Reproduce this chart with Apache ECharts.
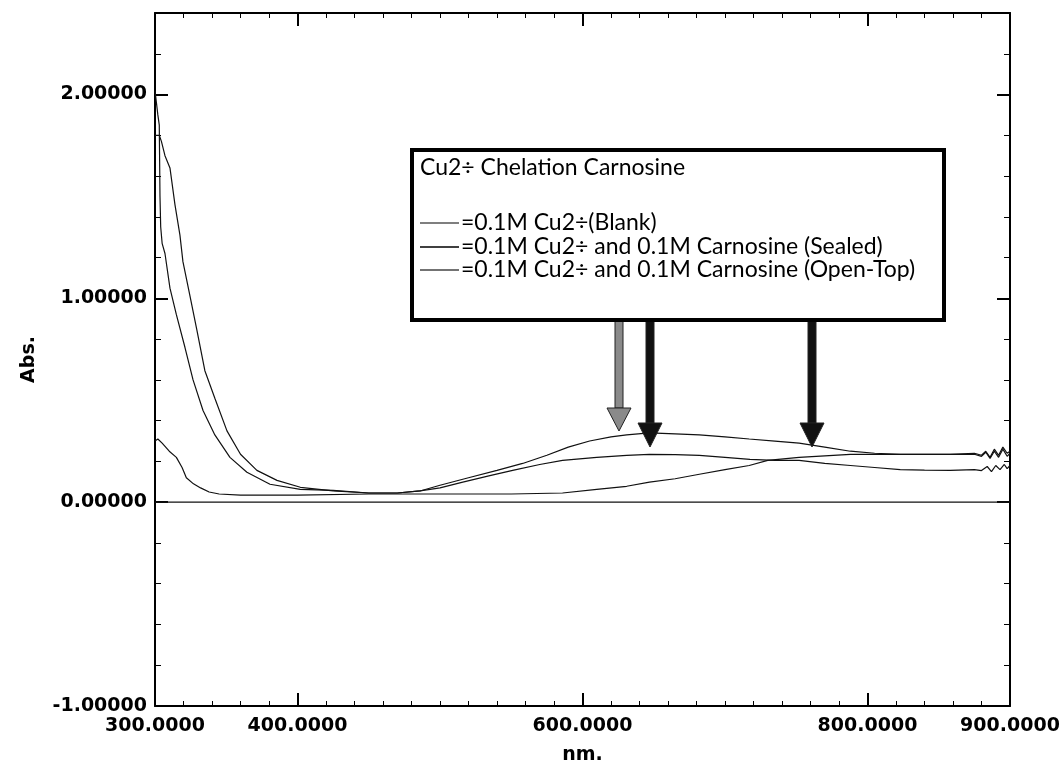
<!DOCTYPE html>
<html>
<head>
<meta charset="utf-8">
<script src="https://cdn.jsdelivr.net/npm/echarts@6.0.0/dist/echarts.min.js"></script>
<style>
  html, body { margin: 0; padding: 0; background: #fff; }
  #main { width: 1064px; height: 770px; }
</style>
</head>
<body>
<div id="main"></div>
<script>
var myChart = echarts.init(document.getElementById('main'));

// wavelength (nm) / absorbance
var blankNm = [300, 302, 305, 310, 315, 319, 322, 327, 332, 338, 345, 360, 400, 450, 500, 550, 586, 610, 631, 647, 665, 682, 700, 717, 730, 752, 788, 823, 858, 875, 880, 883, 886, 889, 892, 895, 898, 900];
var blankAbs = [0.30, 0.31, 0.29, 0.25, 0.22, 0.17, 0.12, 0.09, 0.07, 0.05, 0.04, 0.035, 0.035, 0.04, 0.04, 0.04, 0.045, 0.063, 0.078, 0.098, 0.115, 0.137, 0.16, 0.18, 0.205, 0.22, 0.235, 0.235, 0.235, 0.24, 0.23, 0.25, 0.22, 0.26, 0.23, 0.27, 0.24, 0.25];

var sealedNm = [300, 303, 304.5, 307, 310.5, 314, 317.5, 319.6, 324.6, 329.5, 335, 342, 350.5, 360, 371.5, 385.6, 402, 425, 450, 470, 486, 500, 520, 540, 558, 575, 590, 605, 620, 631, 647, 665, 682, 700, 717, 735, 752, 770, 788, 805, 823, 858, 875, 880, 883, 886, 889, 892, 895, 898, 900];
var sealedAbs = [1.80, 1.80, 1.77, 1.70, 1.64, 1.46, 1.31, 1.18, 1.01, 0.84, 0.645, 0.51, 0.35, 0.235, 0.156, 0.107, 0.073, 0.055, 0.045, 0.045, 0.055, 0.083, 0.12, 0.156, 0.19, 0.23, 0.27, 0.30, 0.32, 0.33, 0.34, 0.335, 0.33, 0.32, 0.31, 0.30, 0.29, 0.27, 0.25, 0.24, 0.235, 0.235, 0.235, 0.225, 0.245, 0.215, 0.25, 0.22, 0.26, 0.225, 0.24];

var openNm = [300, 302, 303, 303.5, 304, 305, 307, 310.5, 315, 321, 326.7, 333.7, 342, 352.6, 364.5, 380.7, 402, 425, 450, 470, 486, 500, 516, 535, 551, 570, 586, 610, 631, 647, 665, 682, 700, 717.5, 735, 752, 770, 788, 805, 823, 840, 858, 875, 880, 884, 887, 890, 893, 896, 898, 900];
var openAbs = [2.02, 1.90, 1.85, 1.50, 1.35, 1.27, 1.22, 1.05, 0.92, 0.76, 0.60, 0.45, 0.33, 0.22, 0.147, 0.088, 0.063, 0.058, 0.045, 0.045, 0.055, 0.07, 0.098, 0.13, 0.156, 0.185, 0.205, 0.22, 0.23, 0.235, 0.233, 0.23, 0.22, 0.21, 0.205, 0.205, 0.19, 0.18, 0.17, 0.16, 0.157, 0.156, 0.16, 0.155, 0.175, 0.15, 0.18, 0.16, 0.185, 0.165, 0.18];

var baseNm = [300, 900];
var baseAbs = [0, 0];

var xLabelValues = [300, 400, 600, 800, 900];
var xMajorTicks = [400, 600, 800];
var yLabelValues = [-1, 0, 1, 2];

var legendTitle = 'Cu2÷ Chelation Carnosine';
var legendNames = [
    '=0.1M Cu2÷(Blank)',
    '=0.1M Cu2÷ and 0.1M Carnosine (Sealed)',
    '=0.1M Cu2÷ and 0.1M Carnosine (Open-Top)'
];

function zip(xs, ys) {
    return xs.map(function (x, i) { return [x, ys[i]]; });
}

function labelFont() {
    return { color: '#000', fontFamily: 'DejaVu Sans', fontWeight: 'bold', fontSize: 19 };
}

function xAx(pos, major, labels) {
    var ax = {
        type: 'value', min: 300, max: 900, interval: 20, position: pos,
        axisLine: { show: !major, onZero: false, lineStyle: { color: '#000', width: 2 } },
        axisTick: major
            ? { show: true, inside: true, length: 13, customValues: xMajorTicks, lineStyle: { color: '#000', width: 2 } }
            : { show: true, inside: true, length: 5, lineStyle: { color: '#000', width: 1 } },
        axisLabel: { show: false },
        splitLine: { show: false }
    };
    if (labels) {
        ax.axisLabel = Object.assign({
            show: true, customValues: xLabelValues, margin: 11,
            formatter: function (v) { return v.toFixed(4); }
        }, labelFont());
        ax.name = 'nm.';
        ax.nameLocation = 'middle';
        ax.nameGap = 40;
        ax.nameTextStyle = labelFont();
    }
    return ax;
}

function yAx(pos, major, labels) {
    var ax = {
        type: 'value', min: -1, max: 2.4, interval: 0.2, position: pos,
        axisLine: { show: !major, onZero: false, lineStyle: { color: '#000', width: 2 } },
        axisTick: major
            ? { show: true, inside: true, length: 13, customValues: yLabelValues, lineStyle: { color: '#000', width: 2 } }
            : { show: true, inside: true, length: 6, lineStyle: { color: '#000', width: 1 } },
        axisLabel: { show: false },
        splitLine: { show: false }
    };
    if (labels) {
        ax.axisLabel = Object.assign({
            show: true, customValues: yLabelValues, margin: 8,
            formatter: function (v) { return v.toFixed(5); }
        }, labelFont());
        ax.name = 'Abs.';
        ax.nameLocation = 'middle';
        ax.nameGap = 116;
        ax.nameRotate = 90;
        ax.nameTextStyle = labelFont();
    }
    return ax;
}

function line(name, data) {
    return {
        name: name,
        type: 'line',
        data: data,
        showSymbol: false,
        lineStyle: { color: '#111', width: 1.2 },
        z: 3
    };
}

// legend box + arrows drawn as annotations
var graphics = [
    {
        type: 'rect', shape: { x: 412, y: 150, width: 532, height: 170 },
        style: { fill: '#fff', stroke: '#000', lineWidth: 4 }, z: 10
    },
    {
        type: 'text', x: 420, y: 168, z: 11,
        style: { text: legendTitle, fill: '#000', font: '23px Lato', verticalAlign: 'middle' }
    }
];
var legendY = [223, 247, 270];
var legendColors = ['#555', '#000', '#444'];
legendNames.forEach(function (t, i) {
    graphics.push({
        type: 'line', z: 11,
        shape: { x1: 420, y1: legendY[i], x2: 459, y2: legendY[i] },
        style: { stroke: legendColors[i], lineWidth: 1.5 }
    });
    graphics.push({
        type: 'text', x: 461, y: legendY[i], z: 11,
        style: { text: t, fill: '#000', font: '23px Lato', verticalAlign: 'middle' }
    });
});

function arrow(cx, headTop, tip, fill) {
    graphics.push({
        type: 'rect', z: 9,
        shape: { x: cx - 4, y: 320, width: 8, height: headTop - 320 },
        style: { fill: fill, stroke: '#222', lineWidth: 1 }
    });
    graphics.push({
        type: 'polygon', z: 9,
        shape: { points: [[cx - 12, headTop], [cx + 12, headTop], [cx, tip]] },
        style: { fill: fill, stroke: '#222', lineWidth: 1 }
    });
}
arrow(619, 408, 431, '#8a8a8a');
arrow(650, 423, 447, '#111');
arrow(812, 423, 447, '#111');

var option = {
    backgroundColor: '#fff',
    animation: false,
    grid: { left: 155, right: 54, top: 13, bottom: 61 },
    xAxis: [
        xAx('bottom', false, true),
        xAx('bottom', true, false),
        xAx('top', false, false),
        xAx('top', true, false)
    ],
    yAxis: [
        yAx('left', false, true),
        yAx('left', true, false),
        yAx('right', false, false),
        yAx('right', true, false)
    ],
    series: [
        line('baseline', zip(baseNm, baseAbs)),
        line(legendNames[0], zip(blankNm, blankAbs)),
        line(legendNames[1], zip(sealedNm, sealedAbs)),
        line(legendNames[2], zip(openNm, openAbs))
    ],
    graphic: graphics
};

myChart.setOption(option);
</script>
</body>
</html>
